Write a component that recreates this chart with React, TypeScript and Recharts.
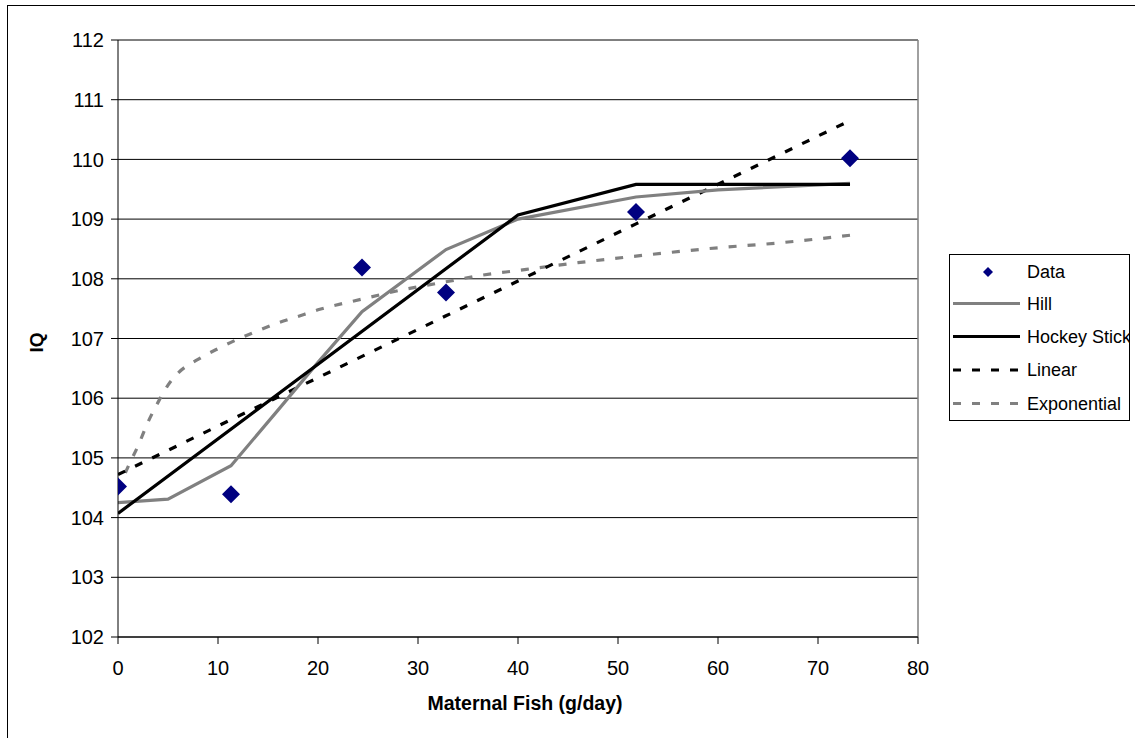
import React from "react";
import {
  ComposedChart,
  Line,
  Scatter,
  XAxis,
  YAxis,
  CartesianGrid,
  Legend,
  ReferenceLine,
} from "recharts";

const FONT = "'Liberation Sans', Arial, sans-serif";

const xTicks = [0, 10, 20, 30, 40, 50, 60, 70, 80];
const yTicks = [102, 103, 104, 105, 106, 107, 108, 109, 110, 111, 112];

const dataX = [0, 11.3, 24.4, 32.8, 51.8, 73.2];
const dataIQ = [104.52, 104.39, 108.19, 107.77, 109.12, 110.02];

const hillX = [0, 5, 11.3, 16, 20, 24.4, 32.8, 40, 51.8, 60, 73.2];
const hillIQ = [104.25, 104.31, 104.87, 105.8, 106.6, 107.45, 108.49, 109.0, 109.37, 109.49, 109.6];

const hockeyX = [0, 40, 51.8, 73.2];
const hockeyIQ = [104.07, 109.07, 109.58, 109.58];

const linearX = [0, 11.3, 24.4, 32.8, 51.8, 73.2];
const linearIQ = [104.72, 105.64, 106.7, 107.38, 108.92, 110.65];

const expX = [0, 1, 2, 3, 4, 5, 6, 8, 10, 12, 14, 16, 18, 20, 24.4, 28, 32.8, 36, 40, 46, 51.8, 60, 66, 73.2];
const expIQ = [104.45, 104.85, 105.2, 105.6, 105.93, 106.22, 106.42, 106.65, 106.83, 106.99, 107.13, 107.26, 107.37, 107.48, 107.66, 107.8, 107.95, 108.05, 108.14, 108.27, 108.38, 108.52, 108.6, 108.73];

const zip = (xs: number[], ys: number[]) => xs.map((x, i) => ({ x, y: ys[i] }));

const scatterData = zip(dataX, dataIQ);
const hillData = zip(hillX, hillIQ);
const hockeyData = zip(hockeyX, hockeyIQ);
const linearData = zip(linearX, linearIQ);
const expData = zip(expX, expIQ);

const NAVY = "#000080";
const GRAY = "#808080";
const DASH = "8 11";

const Diamond = (props: any) => {
  const { cx, cy } = props;
  if (cx == null || cy == null) return null;
  const r = 9;
  return (
    <polygon
      points={`${cx},${cy - r} ${cx + r},${cy} ${cx},${cy + r} ${cx - r},${cy}`}
      fill={NAVY}
    />
  );
};

const legendItems = [
  { name: "Data", kind: "diamond", color: NAVY, dash: undefined as string | undefined },
  { name: "Hill", kind: "line", color: GRAY, dash: undefined },
  { name: "Hockey Stick", kind: "line", color: "#000", dash: undefined },
  { name: "Linear", kind: "line", color: "#000", dash: DASH },
  { name: "Exponential", kind: "line", color: GRAY, dash: DASH },
];

const LegendBox = () => {
  const w = 181;
  const h = 167;
  const ys = [18, 49.5, 82.5, 116, 149.5];
  return (
    <svg width={w} height={h} style={{ display: "block" }}>
      <rect x={0.5} y={0.5} width={w - 1} height={h - 1} fill="#fff" stroke="#000" strokeWidth={1} />
      {legendItems.map((it, i) => {
        const y = ys[i];
        return (
          <g key={it.name}>
            {it.kind === "diamond" ? (
              <polygon
                points={`39,${y - 5} 44,${y} 39,${y + 5} 34,${y}`}
                fill={NAVY}
              />
            ) : (
              <line
                x1={4}
                x2={71}
                y1={y}
                y2={y}
                stroke={it.color}
                strokeWidth={3}
                strokeDasharray={it.dash}
              />
            )}
            <text
              x={78}
              y={y}
              dy="0.35em"
              fontFamily={FONT}
              fontSize={18}
              fill="#000"
            >
              {it.name}
            </text>
          </g>
        );
      })}
    </svg>
  );
};

const IQLabel = (props: any) => {
  const { viewBox } = props;
  const x = viewBox.x - 22;
  const y = viewBox.y + viewBox.height / 2 + 4;
  return (
    <text
      x={x}
      y={y}
      transform={`rotate(-90 ${x} ${y})`}
      textAnchor="middle"
      dy="0.35em"
      fontFamily={FONT}
      fontWeight="bold"
      fontSize={19}
      fill="#000"
    >
      IQ
    </text>
  );
};

const XTitle = (props: any) => {
  const { viewBox } = props;
  const x = viewBox.x + viewBox.width / 2 + 7;
  const y = viewBox.y + viewBox.height + 15;
  return (
    <text
      x={x}
      y={y}
      textAnchor="middle"
      dy="-0.1em"
      fontFamily={FONT}
      fontWeight="bold"
      fontSize={19.5}
      fill="#000"
    >
      Maternal Fish (g/day)
    </text>
  );
};

export default function App() {
  return (
    <div
      style={{
        position: "absolute",
        left: 7,
        top: 5,
        width: 1140,
        height: 745,
        border: "1px solid #000",
        background: "#fff",
      }}
    >
      <ComposedChart
        width={1127}
        height={732}
        margin={{ top: 34, right: 217, bottom: 41, left: 50 }}
      >
        <CartesianGrid horizontal vertical={false} stroke="#000" strokeWidth={1} />
        <XAxis
          dataKey="x"
          type="number"
          domain={[0, 80]}
          ticks={xTicks}
          allowDataOverflow
          height={60}
          stroke="#000"
          tickSize={7}
          tickMargin={17}
          tick={{ fill: "#000", fontSize: 20, fontFamily: FONT }}
          label={<XTitle />}
        />
        <YAxis
          dataKey="y"
          type="number"
          domain={[102, 112]}
          ticks={yTicks}
          allowDataOverflow
          width={60}
          stroke="#000"
          tickSize={7}
          tickMargin={7}
          tick={{ fill: "#000", fontSize: 20, fontFamily: FONT }}
          label={<IQLabel />}
        />
        <ReferenceLine x={80} stroke={GRAY} strokeWidth={1.5} />
        <Line
          data={expData}
          dataKey="y"
          name="Exponential"
          type="monotone"
          stroke={GRAY}
          strokeWidth={3.2}
          strokeDasharray={DASH}
          dot={false}
          isAnimationActive={false}
        />
        <Line
          data={linearData}
          dataKey="y"
          name="Linear"
          type="linear"
          stroke="#000"
          strokeWidth={3.2}
          strokeDasharray={DASH}
          dot={false}
          isAnimationActive={false}
        />
        <Line
          data={hillData}
          dataKey="y"
          name="Hill"
          type="linear"
          stroke={GRAY}
          strokeWidth={3.2}
          dot={false}
          isAnimationActive={false}
        />
        <Line
          data={hockeyData}
          dataKey="y"
          name="Hockey Stick"
          type="linear"
          stroke="#000"
          strokeWidth={3.2}
          dot={false}
          isAnimationActive={false}
        />
        <Scatter
          data={scatterData}
          dataKey="y"
          name="Data"
          fill={NAVY}
          shape={<Diamond />}
          isAnimationActive={false}
        />
        <Legend
          layout="horizontal"
          verticalAlign="middle"
          align="center"
          content={() => <LegendBox />}
          wrapperStyle={{ position: "absolute", left: 941, top: 248, width: 181, height: 167 }}
        />
      </ComposedChart>
    </div>
  );
}
